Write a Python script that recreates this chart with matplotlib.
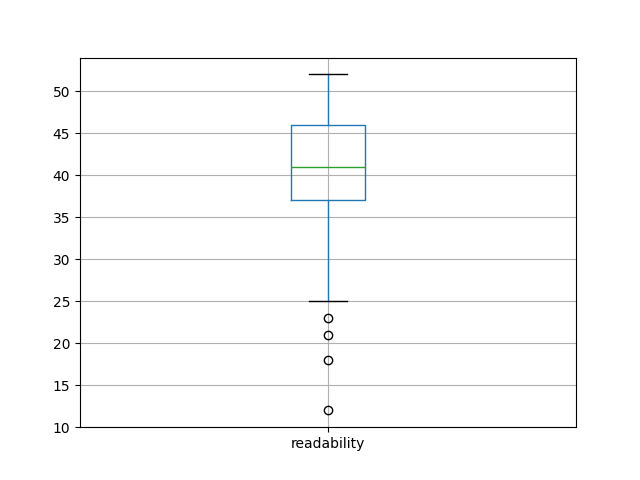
import matplotlib
matplotlib.use("Agg")
from matplotlib import pyplot as plt

# summary statistics
labels = ["readability"]
whisker_low = [25]
q1 = [37]
median = [41]
q3 = [46]
whisker_high = [52]
outliers = [[23, 21, 18, 12]]

stats = []
for i, lab in enumerate(labels):
    stats.append({
        "label": lab,
        "whislo": whisker_low[i],
        "q1": q1[i],
        "med": median[i],
        "q3": q3[i],
        "whishi": whisker_high[i],
        "fliers": outliers[i],
    })

fig, ax = plt.subplots(figsize=(6.4, 4.8), dpi=100)
ax.bxp(stats, widths=0.15,
       boxprops=dict(color="C0"),
       whiskerprops=dict(color="C0"),
       medianprops=dict(color="C2"),
       capprops=dict(color="k"),
       flierprops=dict(marker="o", markerfacecolor="none", markeredgecolor="k"))
ax.grid(True)
fig.savefig("out.png")
